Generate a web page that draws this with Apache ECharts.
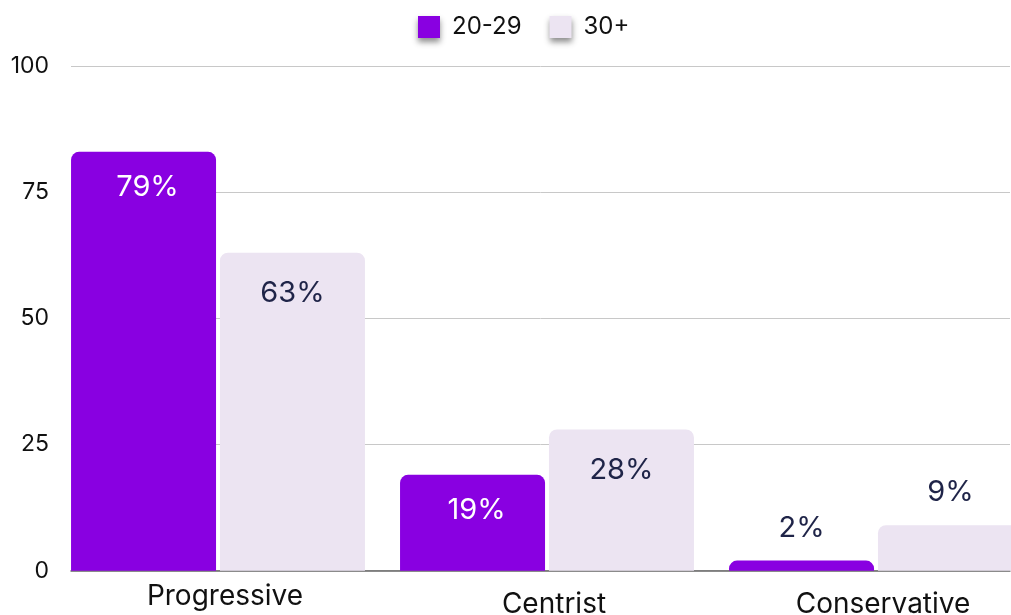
<!DOCTYPE html>
<html><head><meta charset="utf-8">
<script src="https://cdn.jsdelivr.net/npm/echarts@6/dist/echarts.min.js"></script>
<style>html,body{margin:0;padding:0;background:#fff}#c{width:1011px;height:615px}</style>
</head><body><div id="c"></div>
<script>
const categories = ['Progressive', 'Centrist', 'Conservative'];
const seriesNames = ['20-29', '30+'];
const young = [83, 19, 2];
const older = [63, 28, 9];
const youngLabels = ['79%', '19%', '2%'];
const olderLabels = ['63%', '28%', '9%'];
const yMin = 0, yMax = 100, yStep = 25;

const FONT = 'Inter';
const PURPLE = '#8900E1';
const LAVENDER = '#ECE4F2';
const NAVY = '#1F2448';

function items(values, labels, inColor, inDist, inPad) {
  return values.map((v, i) => {
    const inside = v >= 12;
    return {
      value: v,
      label: {
        show: true,
        formatter: labels[i],
        position: inside ? 'insideTop' : 'top',
        distance: inside ? inDist : 18,
        color: inside ? inColor : NAVY,
        padding: inside ? [0, 0, 0, inPad] : 0
      }
    };
  });
}

const chart = echarts.init(document.getElementById('c'), null, {renderer: 'canvas'});
chart.setOption({
  animation: false,
  textStyle: {fontFamily: FONT},
  legend: {
    top: 10, left: 413,
    itemWidth: 22, itemHeight: 22, itemGap: 28,
    icon: 'rect',
    textStyle: {fontSize: 24, color: '#111', fontFamily: FONT, padding: [0, 0, 0, 7]},
    itemStyle: {shadowBlur: 6, shadowColor: 'rgba(0,0,0,0.45)', shadowOffsetY: 4},
    data: seriesNames
  },
  grid: [
    {left: 71, right: 1, top: 66, bottom: 44.3, outerBoundsMode: 'none', containLabel: false},
    {left: 53.5, width: 987, top: 66, bottom: 44.3, outerBoundsMode: 'none', containLabel: false}
  ],
  xAxis: [
    {type: 'category', gridIndex: 0, data: categories,
     axisLine: {show: true, lineStyle: {color: '#666', width: 1.5}},
     axisTick: {show: false}, axisLabel: {show: false}, splitLine: {show: false}},
    {type: 'category', gridIndex: 1, data: categories.map((c, i) => ({
        value: c,
        textStyle: {padding: i === 0 ? [0, 0, 0, 14] : [8, 0, 0, 14]}
      })),
     axisLine: {show: false}, axisTick: {show: false},
     axisLabel: {show: true, margin: 12, fontSize: 28, color: '#111', fontFamily: FONT}}
  ],
  yAxis: [
    {type: 'value', gridIndex: 0, min: yMin, max: yMax, interval: yStep,
     axisLine: {show: false}, axisTick: {show: false},
     axisLabel: {margin: 22, fontSize: 23, color: '#111', fontFamily: FONT},
     splitLine: {lineStyle: {color: '#c8c8c8', width: 1}}},
    {type: 'value', gridIndex: 1, min: yMin, max: yMax, interval: yStep, show: false,
     splitLine: {show: false}}
  ],
  series: [
    {name: seriesNames[0], type: 'bar', xAxisIndex: 1, yAxisIndex: 1,
     barWidth: 145, barGap: '2.7%',
     itemStyle: {color: PURPLE, borderRadius: [8, 8, 0, 0]},
     label: {fontSize: 29, fontFamily: FONT},
     data: items(young, youngLabels, '#fff', 21, 8)},
    {name: seriesNames[1], type: 'bar', xAxisIndex: 1, yAxisIndex: 1,
     barWidth: 145, barGap: '2.7%',
     itemStyle: {color: LAVENDER, borderRadius: [8, 8, 0, 0]},
     label: {fontSize: 29, fontFamily: FONT},
     data: items(older, olderLabels, NAVY, 26, 0)}
  ]
});
</script></body></html>
